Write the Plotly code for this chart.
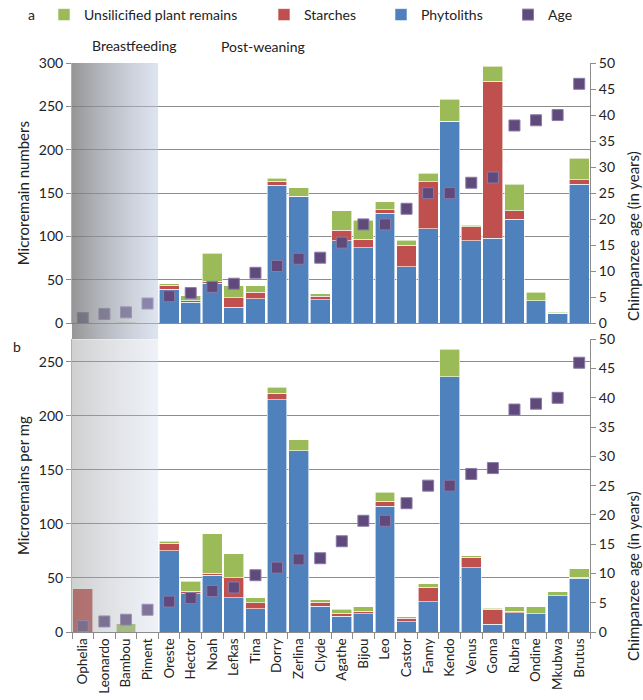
import base64
import plotly.graph_objects as go

# ---------------- data ----------------
names = ["Ophelia", "Leonardo", "Bambou", "Piment", "Oreste", "Hector", "Noah", "Lefkas",
         "Tina", "Dorry", "Zerlina", "Clyde", "Agathe", "Bijou", "Leo", "Castor", "Fanny",
         "Kendo", "Venus", "Goma", "Rubra", "Ondine", "Mkubwa", "Brutus"]

age = [1.0, 1.8, 2.1, 3.8, 5.2, 5.8, 7.0, 7.6, 9.7, 11.0, 12.4, 12.6, 15.5, 19.0, 19.0,
       22.0, 25.0, 25.0, 27.0, 28.0, 38.0, 39.0, 40.0, 46.0]

# panel a: microremain numbers
phyto_n = [0, 0, 0, 0, 39, 24, 46, 18.5, 28.5, 159, 146, 27, 95, 87, 127, 65, 109, 233,
           95, 98, 120, 26, 11.5, 160]
starch_n = [1, 0, 0, 0, 5, 2, 2.5, 11, 7.5, 4.5, 0.5, 4, 12, 10, 4, 25, 54, 0,
            16, 181, 10, 0, 0, 5.5]
unsil_n = [0, 0, 1, 0, 1.5, 6, 32.5, 13.5, 7, 3.5, 9.5, 3, 22.5, 22, 9, 6, 10, 25,
           2, 17, 30, 10, 1, 24.5]

# panel b: microremains per mg
phyto_mg = [0, 0, 0, 0, 75, 35.5, 52.5, 31.8, 21.3, 214.8, 167.6, 23.8, 14.8, 16.7, 116.4,
            9.3, 27.8, 236, 59.3, 7.1, 17.6, 16.7, 33.6, 49.7]
starch_mg = [40, 0, 0, 0, 7, 2.2, 2, 18.5, 5.6, 5.9, 0, 3.7, 2.5, 2.3, 4.6,
             3.4, 13.6, 0, 9.8, 13.9, 1.5, 0, 0, 0.9]
unsil_mg = [0, 0, 7.7, 0, 2, 9, 36.5, 22.2, 4.9, 5.8, 10.4, 2.5, 3.7, 4.5, 8.3,
            1.2, 3, 25.4, 1.6, 1.2, 4.4, 6.8, 3.7, 8]

series_labels = ["Phytoliths", "Starches", "Unsilicified plant remains"]
age_label = "Age"

# ---------------- style ----------------
GREEN = "#9BBB59"
RED = "#C0504D"
BLUE = "#4F81BD"
PURPLE = "#604A7B"
FONT = "Lato"
W, H = 643, 700
ML, MR, MT, MB = 72, 53, 63, 68
PW = W - ML - MR
PH = H - MT - MB
BOT = H - MB  # y pixel of bottom axis


def py(p):  # pixel y (from top) -> paper y
    return (BOT - p) / PH


def px(p):  # pixel x -> paper x
    return (p - ML) / PW


fig = go.Figure()

bar_line = dict(color="rgba(255,255,255,0.75)", width=0.8)
legends = {"Unsilicified plant remains": "legend", "Starches": "legend2",
           "Phytoliths": "legend3"}
colors = {"Phytoliths": BLUE, "Starches": RED, "Unsilicified plant remains": GREEN}

for vals, lab in zip([phyto_n, starch_n, unsil_n], series_labels):
    fig.add_trace(go.Bar(x=names, y=vals, name=lab, marker=dict(color=colors[lab], line=bar_line),
                         xaxis="x", yaxis="y", legend=legends[lab]))
fig.add_trace(go.Scatter(x=names, y=age, name=age_label, mode="markers",
                         marker=dict(symbol="square", size=11, color=PURPLE,
                                     line=dict(color="#8a7aa8", width=1)),
                         xaxis="x", yaxis="y2", legend="legend4"))

for vals, lab in zip([phyto_mg, starch_mg, unsil_mg], series_labels):
    fig.add_trace(go.Bar(x=names, y=vals, name=lab, marker=dict(color=colors[lab], line=bar_line),
                         xaxis="x2", yaxis="y3", showlegend=False))
fig.add_trace(go.Scatter(x=names, y=age, name=age_label, mode="markers",
                         marker=dict(symbol="square", size=11, color=PURPLE,
                                     line=dict(color="#8a7aa8", width=1)),
                         xaxis="x2", yaxis="y4", showlegend=False))

AX = "#8c8c8c"
tickfont = dict(family=FONT, size=14, color="#222")
xtickfont = dict(family=FONT, size=13.5, color="#222")
title_font = dict(family=FONT, size=15, color="#222")
top_dom = [py(323.3), 1]
bot_dom = [0, py(339.3)]

fig.update_layout(
    width=W, height=H,
    margin=dict(l=ML, r=MR, t=MT, b=MB, autoexpand=False),
    paper_bgcolor="white", plot_bgcolor="white",
    barmode="stack", bargap=0.08,
    font=dict(family=FONT, size=14, color="#222"),
    xaxis=dict(domain=[0, 1], anchor="y", type="category", range=[-0.5, 23.5],
               showticklabels=False, ticks="", showline=True, linecolor=AX,
               showgrid=False),
    yaxis=dict(domain=top_dom, anchor="x", range=[0, 300], dtick=50,
               showgrid=True, gridcolor=AX, gridwidth=1, zeroline=False,
               ticks="outside", ticklen=5, tickcolor=AX, showline=True, linecolor="#b0b0b0",
               tickfont=tickfont,
               title=dict(text="Microremain numbers", font=title_font, standoff=5)),
    yaxis2=dict(overlaying="y", side="right", anchor="x", range=[0, 50], dtick=5,
                showgrid=False, zeroline=False, ticks="outside", ticklen=5, tickcolor=AX,
                showline=True, linecolor=AX, tickfont=tickfont),
    xaxis2=dict(domain=[0, 1], anchor="y3", type="category", range=[-0.5, 23.5],
                tickangle=-90, ticks="outside", tickson="boundaries", ticklen=6,
                tickcolor=AX, showline=True, linecolor=AX, showgrid=False,
                tickfont=xtickfont),
    yaxis3=dict(domain=bot_dom, anchor="x2", range=[0, 270.7], dtick=50,
                showgrid=True, gridcolor=AX, gridwidth=1, zeroline=False,
                ticks="outside", ticklen=5, tickcolor=AX, showline=True, linecolor="#b0b0b0",
                tickfont=tickfont,
                title=dict(text="Microremains per mg", font=title_font, standoff=5)),
    yaxis4=dict(overlaying="y3", side="right", anchor="x2", range=[0, 50], dtick=5,
                showgrid=False, zeroline=False, ticks="outside", ticklen=5, tickcolor=AX,
                showline=True, linecolor=AX, tickfont=tickfont),
)

leg_common = dict(orientation="h", yanchor="middle", y=py(15), xanchor="left",
                  bgcolor="rgba(0,0,0,0)", font=dict(family=FONT, size=14, color="#222"),
                  itemwidth=30)
fig.update_layout(
    legend=dict(leg_common, x=px(44)),
    legend2=dict(leg_common, x=px(264)),
    legend3=dict(leg_common, x=px(381)),
    legend4=dict(leg_common, x=px(508)),
)


def grad(c1, a1, c2, a2):
    svg = ('<svg xmlns="http://www.w3.org/2000/svg" width="100" height="100" '
           'viewBox="0 0 100 100" preserveAspectRatio="none">'
           '<defs><linearGradient id="g" x1="0" y1="0" x2="1" y2="0">'
           f'<stop offset="0" stop-color="{c1}" stop-opacity="{a1}"/>'
           f'<stop offset="1" stop-color="{c2}" stop-opacity="{a2}"/>'
           '</linearGradient></defs><rect width="100" height="100" fill="url(#g)"/></svg>')
    return "data:image/svg+xml;base64," + base64.b64encode(svg.encode()).decode()


shade_w = 4 / 24
fig.add_layout_image(source=grad("rgb(120,120,120)", 0.78, "rgb(186,199,224)", 0.48),
                     xref="paper", yref="paper", x=0, y=1, sizex=shade_w,
                     sizey=(339.3 - MT) / PH, xanchor="left", yanchor="top",
                     sizing="stretch", layer="above")
fig.add_layout_image(source=grad("rgb(150,150,150)", 0.45, "rgb(200,210,230)", 0.3),
                     xref="paper", yref="paper", x=0, y=py(339.3), sizex=shade_w,
                     sizey=py(339.3), xanchor="left", yanchor="top",
                     sizing="stretch", layer="above")

ann_font = dict(family=FONT, size=14, color="#222")
annotations = [
    dict(text="a", x=px(31), y=py(15), xanchor="center", yanchor="middle", font=ann_font),
    dict(text="b", x=px(17), y=py(346), xanchor="center", yanchor="middle", font=ann_font),
    dict(text="Breastfeeding", x=px(134), y=py(45), xanchor="center", yanchor="middle", font=ann_font),
    dict(text="Post-weaning", x=px(263), y=py(46), xanchor="center", yanchor="middle", font=ann_font),
    dict(text="Chimpanzee age (in years)", x=px(633), y=py(236), textangle=-90,
         xanchor="center", yanchor="middle", font=title_font),
    dict(text="Chimpanzee age (in years)", x=px(633), y=py(576), textangle=-90,
         xanchor="center", yanchor="middle", font=title_font),
]
for a in annotations:
    a.update(xref="paper", yref="paper", showarrow=False)
fig.update_layout(annotations=annotations)

fig.write_html("out.html", config={"displayModeBar": False},
               post_script="document.body.style.margin='0';")
